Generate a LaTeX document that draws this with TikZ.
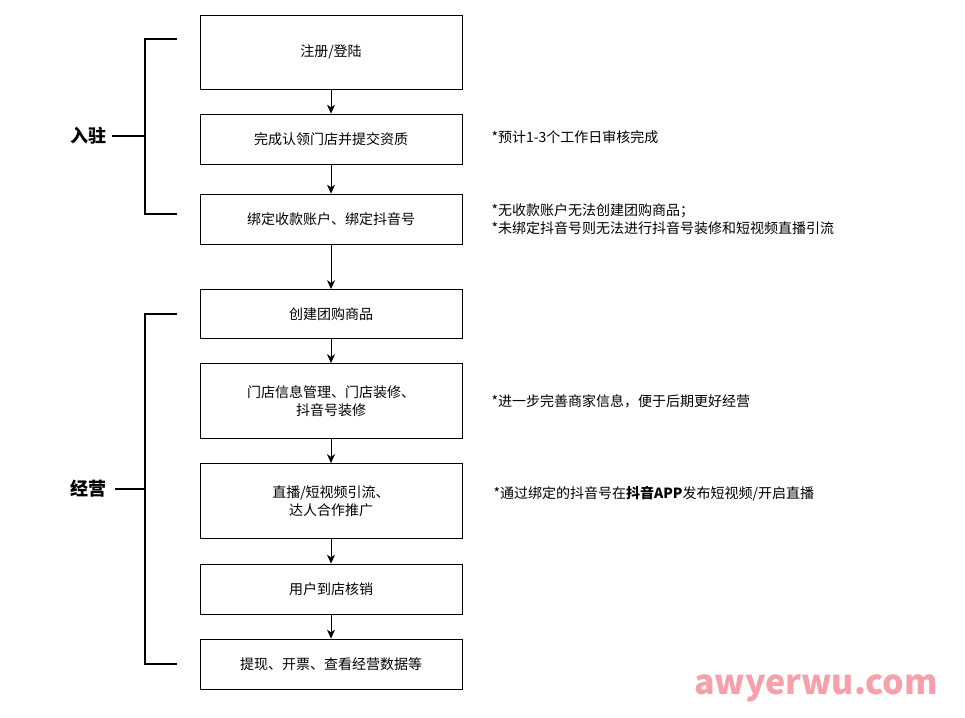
\documentclass[tikz,border=0pt]{standalone}
\usepackage{fontspec}
\setmainfont{Noto Sans CJK SC}
\usetikzlibrary{arrows.meta,positioning}
\definecolor{wmpink}{RGB}{245,160,170}
\tikzset{
  stepbox/.style={draw,line width=0.8pt,minimum width=262pt,align=center,font=\fontsize{14}{18}\selectfont},
  note/.style={anchor=west,align=left,font=\fontsize{14}{18}\selectfont},
  brace/.style={line width=2pt},
  flow/.style={-{Stealth[length=9pt,width=8pt]},line width=0.8pt},
}
\begin{document}
\begin{tikzpicture}[x=1pt,y=-1pt]
  \useasboundingbox (0,0) rectangle (965,717);
  \node[stepbox,minimum height=74pt] (s1) at (331,52)  {注册/登陆};
  \node[stepbox,minimum height=50pt] (s2) at (331,139) {完成认领门店并提交资质};
  \node[stepbox,minimum height=50pt] (s3) at (331,219) {绑定收款账户、绑定抖音号};
  \node[stepbox,minimum height=49pt] (s4) at (331,314) {创建团购商品};
  \node[stepbox,minimum height=75pt] (s5) at (331,401) {门店信息管理、门店装修、\\抖音号装修};
  \node[stepbox,minimum height=75pt] (s6) at (331,501) {直播/短视频引流、\\达人合作推广};
  \node[stepbox,minimum height=50pt] (s7) at (331,589) {用户到店核销};
  \node[stepbox,minimum height=50pt] (s8) at (331,664) {提现、开票、查看经营数据等};

  \foreach \a/\b in {s1/s2,s2/s3,s3/s4,s4/s5,s5/s6,s6/s7,s7/s8}
    \draw[flow] (\a) -- (\b);

  % brackets
  \draw[brace] (177,39) -- (145,39) -- (145,214) -- (177,214);
  \draw[brace] (145,136) -- (112,136);
  \node[font=\fontsize{18}{20}\selectfont\bfseries] (g1) at (88,136) {入驻};
  \draw[brace] (177,314) -- (145,314) -- (145,664) -- (177,664);
  \draw[brace] (145,489) -- (115,489);
  \node[font=\fontsize{18}{20}\selectfont\bfseries] (g2) at (88,489) {经营};

  % notes
  \node[note] (n2) at (488,137) {*预计1-3个工作日审核完成};
  \node[note] (n3) at (488,219) {*无收款账户无法创建团购商品；\\*未绑定抖音号则无法进行抖音号装修和短视频直播引流};
  \node[note] (n5) at (488,401) {*进一步完善商家信息，便于后期更好经营};
  \node[note] (n6) at (490,494) {*通过绑定的抖音号在\textbf{抖音APP}发布短视频/开启直播};

  \node[font=\fontsize{34}{36}\selectfont\bfseries,text=wmpink] (wm) at (816,688) {awyerwu.com};
\end{tikzpicture}
\end{document}
